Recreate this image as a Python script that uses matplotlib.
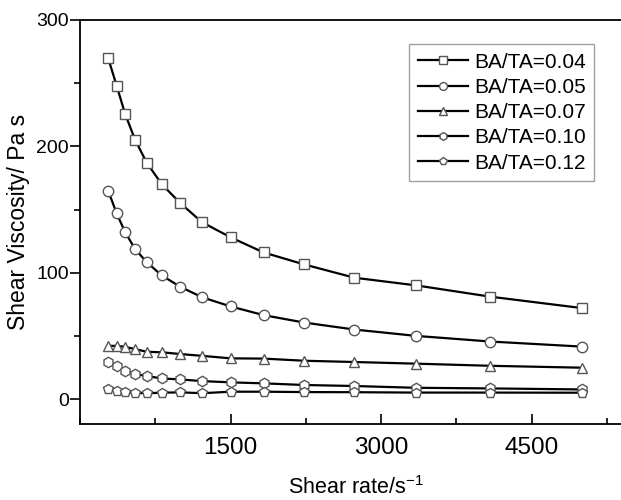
import matplotlib
matplotlib.use("Agg")
import matplotlib.pyplot as plt
from matplotlib.ticker import MultipleLocator

plt.rcParams['font.family'] = ['Liberation Sans', 'DejaVu Sans']

# shear rate (1/s)
shear_rate = [280, 365, 450, 550, 665, 815, 1000, 1215, 1500, 1830, 2235, 2735, 3345, 4090, 5000]

# shear viscosity (Pa s) for each BA/TA ratio
visc_004 = [270, 248, 225.5, 205, 187, 170, 155, 140, 128, 116, 106.5, 96, 90, 81, 72]
visc_005 = [165, 147, 132, 118.6, 108.3, 97.8, 88.8, 80.6, 73.3, 66.4, 60.5, 55, 50, 45.5, 41.5]
visc_007 = [42.1, 42.1, 41.3, 39.5, 37.4, 37.0, 35.6, 34.2, 32.2, 32.0, 30.3, 29.3, 28.0, 26.3, 24.8]
visc_010 = [29.5, 26.1, 22.1, 19.8, 18.2, 16.3, 15.5, 14.2, 13.2, 12.4, 11.1, 10.3, 8.9, 8.4, 7.6]
visc_012 = [7.6, 6.6, 5.3, 4.8, 4.6, 5.0, 5.3, 4.6, 5.8, 5.8, 5.5, 5.4, 5.1, 5.1, 5.0]

labels = ['BA/TA=0.04', 'BA/TA=0.05', 'BA/TA=0.07', 'BA/TA=0.10', 'BA/TA=0.12']
markers = ['s', 'o', '^', 'h', 'p']

fig = plt.figure(figsize=(6.21, 5.0), dpi=100)
ax = fig.add_axes([80 / 621, 1 - 424.3 / 500, 552 / 621, 404.3 / 500])

all_series = [visc_004, visc_005, visc_007, visc_010, visc_012]
for ys, lab, mk in zip(all_series, labels, markers):
    ax.plot(shear_rate, ys, color='black', lw=1.6, marker=mk, ms=7.5,
            mfc='white', mec='#555555', mew=1.0, label=lab)

ax.set_xlim(0, 5500)
ax.set_ylim(-20, 300)
ax.xaxis.set_major_locator(MultipleLocator(1500))
ax.xaxis.set_minor_locator(MultipleLocator(750))
ax.yaxis.set_major_locator(MultipleLocator(100))
ax.yaxis.set_minor_locator(MultipleLocator(50))
ax.set_xticks([1500, 3000, 4500])

ax.tick_params(axis='x', which='both', direction='in', top=False, labelsize=17.5, pad=9)
ax.tick_params(axis='x', which='major', length=7, width=1.2)
ax.tick_params(axis='x', which='minor', length=4, width=1.2)
ax.tick_params(axis='y', which='both', direction='out', right=False, labelsize=14, pad=1)
ax.tick_params(axis='y', which='major', length=7, width=1.2)
ax.tick_params(axis='y', which='minor', length=4, width=1.2)
for s in ax.spines.values():
    s.set_linewidth(1.3)

ax.set_xlabel('Shear rate/s$^{\\mathregular{-1}}$', fontsize=15.5)
ax.xaxis.set_label_coords(0.5, -0.128)
ax.set_ylabel('Shear Viscosity/ Pa s', fontsize=16.5)
ax.yaxis.set_label_coords(-0.09, 0.5)

leg = ax.legend(loc='upper left', bbox_to_anchor=(409.3 / 621, 1 - 44.3 / 500),
                bbox_transform=fig.transFigure, fontsize=15, frameon=True,
                fancybox=False, borderaxespad=0, handlelength=2.4,
                handletextpad=0.3, labelspacing=0.3, borderpad=0.4,
                markerscale=0.75)
leg.get_frame().set_edgecolor('#888888')
leg.get_frame().set_linewidth(1.0)

fig.savefig('out.png', dpi=100)
